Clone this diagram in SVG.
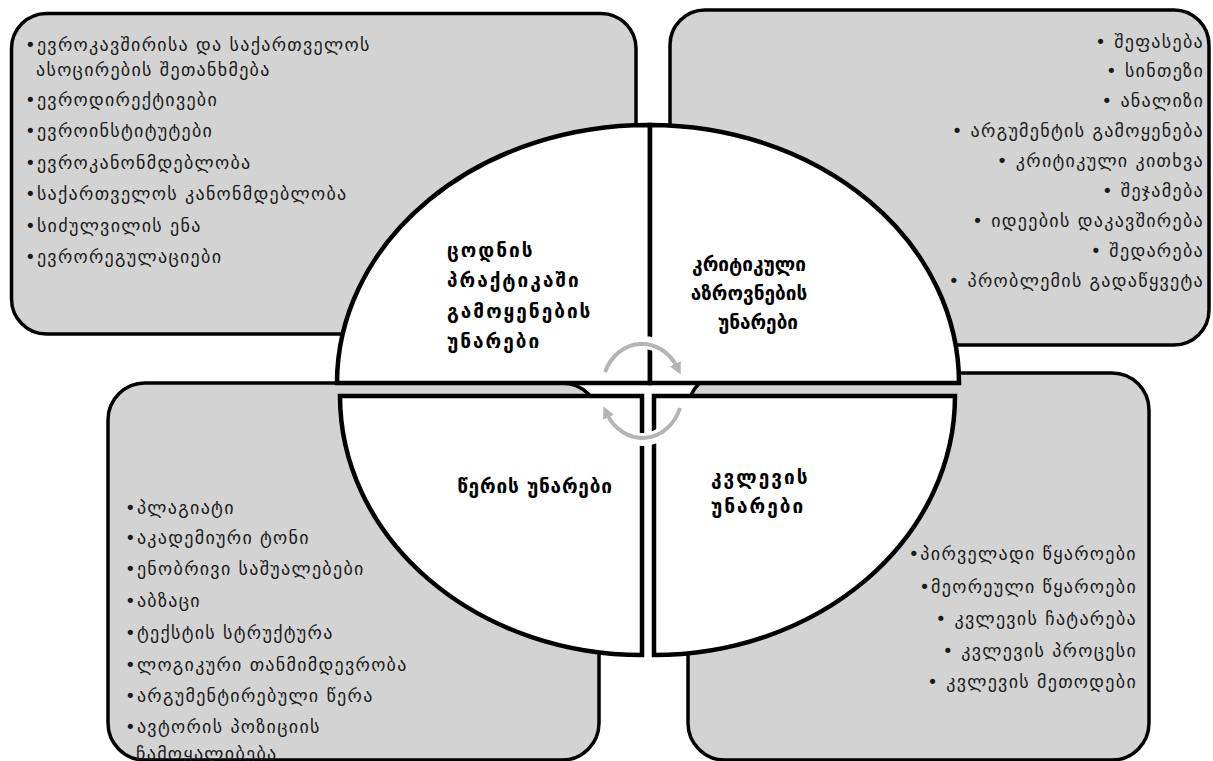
<svg xmlns="http://www.w3.org/2000/svg" width="1213" height="761" viewBox="0 0 1213 761">
<defs>
<style>
.box{fill:#d3d3d3;stroke:#000;stroke-width:3.5}
.q{fill:#fff;stroke:#000;stroke-width:4.5;stroke-linejoin:miter}
.t{font-family:"DejaVu Sans","Noto Sans",sans-serif;font-size:18px;letter-spacing:1.3px;fill:#1a1a1a}
.r{text-anchor:end}
.lab{font-family:"DejaVu Sans","Noto Sans",sans-serif;font-size:19px;font-weight:bold;fill:#000}
.ws{letter-spacing:2px}
.halo{fill:none;stroke:#fff;stroke-width:13}
.arr{fill:none;stroke:#b4b4b4;stroke-width:4}
</style>
<marker id="ah" viewBox="0 0 10 10" refX="3" refY="5" markerWidth="3" markerHeight="3" orient="auto" markerUnits="strokeWidth">
<path d="M0,0 L10,5 L0,10 z" fill="#b4b4b4"/>
</marker>
</defs>

<g id="box-top-left">
<rect class="box" x="11.5" y="13.5" width="624.5" height="320.5" rx="35"/>
<text class="t" x="25" y="51">•ევროკავშირისა და საქართველოს</text>
<text class="t" x="36" y="76">ასოცირების შეთანხმება</text>
<text class="t" x="25" y="106">•ევროდირექტივები</text>
<text class="t" x="25" y="137">•ევროინსტიტუტები</text>
<text class="t" x="25" y="169">•ევროკანონმდებლობა</text>
<text class="t" x="25" y="200">•საქართველოს კანონმდებლობა</text>
<text class="t" x="25" y="232">•სიძულვილის ენა</text>
<text class="t" x="25" y="263">•ევრორეგულაციები</text>
</g>

<g id="box-top-right">
<rect class="box" x="670" y="10" width="539" height="335" rx="35"/>
<text class="t r" x="1204" y="48">• შეფასება</text>
<text class="t r" x="1204" y="77">• სინთეზი</text>
<text class="t r" x="1204" y="107">• ანალიზი</text>
<text class="t r" x="1204" y="137">• არგუმენტის გამოყენება</text>
<text class="t r" x="1204" y="167">• კრიტიკული კითხვა</text>
<text class="t r" x="1204" y="197">• შეჯამება</text>
<text class="t r" x="1204" y="227">• იდეების დაკავშირება</text>
<text class="t r" x="1204" y="257">• შედარება</text>
<text class="t r" x="1204" y="287">• პრობლემის გადაწყვეტა</text>
</g>

<g id="box-bottom-left">
<rect class="box" x="108" y="383" width="491" height="377" rx="37"/>
<text class="t" x="125" y="514">•პლაგიატი</text>
<text class="t" x="125" y="544">•აკადემიური ტონი</text>
<text class="t" x="125" y="575">•ენობრივი საშუალებები</text>
<text class="t" x="125" y="607">•აბზაცი</text>
<text class="t" x="125" y="639">•ტექსტის სტრუქტურა</text>
<text class="t" x="125" y="671">•ლოგიკური თანმიმდევრობა</text>
<text class="t" x="125" y="702">•არგუმენტირებული წერა</text>
<text class="t" x="125" y="733">•ავტორის პოზიციის</text>
<text class="t" x="136" y="760">ჩამოყალიბება</text>
</g>

<g id="box-bottom-right">
<rect class="box" x="688" y="373" width="461" height="387" rx="37"/>
<text class="t r" x="1137" y="560">•პირველადი წყაროები</text>
<text class="t r" x="1137" y="593">•მეორეული წყაროები</text>
<text class="t r" x="1137" y="625">• კვლევის ჩატარება</text>
<text class="t r" x="1137" y="657">• კვლევის პროცესი</text>
<text class="t r" x="1137" y="688">• კვლევის მეთოდები</text>
</g>

<g id="node-knowledge">
<path class="q" d="M650,383 L337,383 A311,258 0 0 1 650,125 Z"/>
<text class="lab ws" x="447" y="257">ცოდნის</text>
<text class="lab ws" x="447" y="287">პრაქტიკაში</text>
<text class="lab ws" x="447" y="318">გამოყენების</text>
<text class="lab ws" x="447" y="348">უნარები</text>
</g>

<g id="node-critical">
<path class="q" d="M650,383 L959,383 A309,258 0 0 0 650,125 Z"/>
<text class="lab" x="749" y="271" text-anchor="middle">კრიტიკული</text>
<text class="lab" x="749" y="300" text-anchor="middle">აზროვნების</text>
<text class="lab" x="758" y="329" text-anchor="middle">უნარები</text>
</g>

<g id="node-writing">
<path class="q" d="M642,396 L340,396 A302,259 0 0 0 642,655 Z"/>
<text class="lab" x="535" y="493" text-anchor="middle" style="letter-spacing:0.8px">წერის უნარები</text>
</g>

<g id="node-research">
<path class="q" d="M654,396 L955,396 A301,259 0 0 1 654,655 Z"/>
<text class="lab ws" x="711" y="484">კვლევის</text>
<text class="lab ws" x="711" y="513">უნარები</text>
</g>

<g id="connectors">
<path class="halo" d="M605,372 A40,45 0 0 1 679,369"/>
<path class="halo" d="M680,408 A40,45 0 0 1 605,412"/>
<path class="arr" d="M605,372 A40,45 0 0 1 677,367" marker-end="url(#ah)"/>
<path class="arr" d="M680,408 A40,45 0 0 1 607,414" marker-end="url(#ah)"/>
</g>
</svg>
